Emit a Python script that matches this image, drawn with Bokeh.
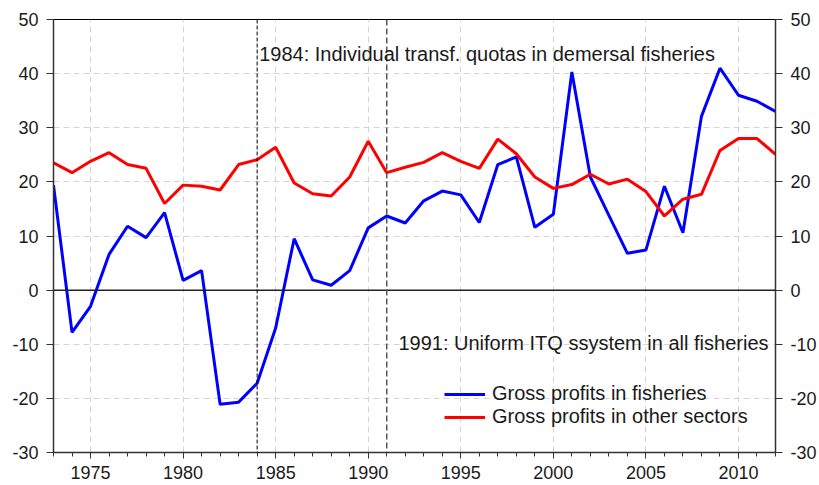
from bokeh.plotting import figure
from bokeh.models import (ColumnDataSource, LinearAxis, SingleIntervalTicker, Span, Label,
                          Legend, LegendItem, Range1d, PrintfTickFormatter)
from bokeh.embed import file_html
from bokeh.resources import INLINE

years = list(range(1973, 2013))
fisheries = [19.4, -7.8, -3.0, 6.6, 11.8, 9.7, 14.3, 1.8, 3.6, -21.1,
             -20.7, -17.2, -7.0, 9.5, 1.9, 0.9, 3.6, 11.5, 13.7, 12.4,
             16.5, 18.3, 17.6, 12.5, 23.2, 24.6, 11.6, 14.0, 40.3, 20.9,
             13.8, 6.8, 7.4, 19.2, 10.6, 32.1, 41.0, 36.0, 34.9, 33.0]
other = [23.5, 21.7, 23.8, 25.4, 23.2, 22.5, 16.0, 19.4, 19.2, 18.5,
         23.2, 24.1, 26.4, 19.8, 17.8, 17.4, 20.9, 27.5, 21.7, 22.7,
         23.6, 25.4, 23.8, 22.5, 27.9, 25.2, 20.9, 18.8, 19.5, 21.4,
         19.6, 20.5, 18.2, 13.7, 16.8, 17.7, 25.8, 28.0, 28.0, 25.1]
event_years = [1984, 1991]
event_texts = ["1984: Individual transf. quotas in demersal fisheries",
               "1991: Uniform ITQ ssystem in all fisheries"]
series_names = ["Gross profits in fisheries", "Gross profits in other sectors"]

FONT = "Liberation Sans"
TXT = "#1a1a1a"

src = ColumnDataSource(dict(year=years, fish=fisheries, other=other))

p = figure(width=819, height=485, output_backend="svg", toolbar_location=None,
           x_range=Range1d(1973, 2012), y_range=Range1d(-30, 50),
           min_border_left=53, min_border_right=44, min_border_top=19, min_border_bottom=33)
p.background_fill_color = "white"
p.border_fill_color = "white"
p.outline_line_color = "#000000"
p.outline_line_width = 1

# axes
p.xaxis.ticker = SingleIntervalTicker(interval=5, num_minor_ticks=5)
p.yaxis.ticker = SingleIntervalTicker(interval=10, num_minor_ticks=0)
p.yaxis.formatter = PrintfTickFormatter(format="%d")
p.xaxis.formatter = PrintfTickFormatter(format="%d")
right = LinearAxis(ticker=SingleIntervalTicker(interval=10, num_minor_ticks=0),
                   formatter=PrintfTickFormatter(format="%d"))
p.add_layout(right, "right")
for ax in p.axis:
    ax.axis_line_color = "#333333"
    ax.axis_line_width = 1.5
    ax.major_tick_line_color = "#333333"
    ax.minor_tick_line_color = "#333333"
    ax.major_tick_out = 7
    ax.major_tick_in = 0
    ax.minor_tick_out = 4
    ax.minor_tick_in = 0
    ax.major_label_text_font = FONT
    ax.major_label_text_font_size = "18px"
    ax.major_label_text_color = TXT
    ax.major_label_standoff = 8
p.xaxis.major_tick_out = 6
p.xaxis.major_label_standoff = 7

# grid
p.xgrid.grid_line_color = "#d4d4d4"
p.xgrid.grid_line_dash = "6 4"
p.xgrid.grid_line_width = 1
p.ygrid.grid_line_color = "#d4d4d4"
p.ygrid.grid_line_dash = "6 4"
p.ygrid.grid_line_width = 1

# zero line
p.add_layout(Span(location=0, dimension="width", line_color="#222222", line_width=1.5))

# event lines
p.add_layout(Span(location=event_years[0], dimension="height", line_color="#000000",
                  line_width=1, line_dash="4 2"))
p.add_layout(Span(location=event_years[1], dimension="height", line_color="#555555",
                  line_width=1.5, line_dash="6 3"))

r1 = p.line("year", "fish", source=src, line_color="#0000ff", line_width=3)
r2 = p.line("year", "other", source=src, line_color="#ff0000", line_width=3)

p.add_layout(Label(x=event_years[0], y=43.6, x_offset=2, text=event_texts[0],
                   text_font=FONT, text_font_size="20px", text_color=TXT,
                   text_baseline="middle", text_align="left"))
p.add_layout(Label(x=2012, y=-9.8, x_offset=-7, text=event_texts[1],
                   text_font=FONT, text_font_size="20px", text_color=TXT,
                   text_baseline="middle", text_align="right"))

legend = Legend(items=[LegendItem(label=series_names[0], renderers=[r1]),
                       LegendItem(label=series_names[1], renderers=[r2])],
                location=(391, 24))
legend.background_fill_alpha = 0
legend.border_line_alpha = 0
legend.padding = 0
legend.margin = 0
legend.spacing = 0
legend.glyph_width = 41
legend.glyph_height = 20
legend.label_height = 20
legend.label_standoff = 7
legend.label_text_font = FONT
legend.label_text_font_size = "20px"
legend.label_text_color = TXT
p.add_layout(legend)

open("out.html", "w").write(file_html(p, INLINE))
